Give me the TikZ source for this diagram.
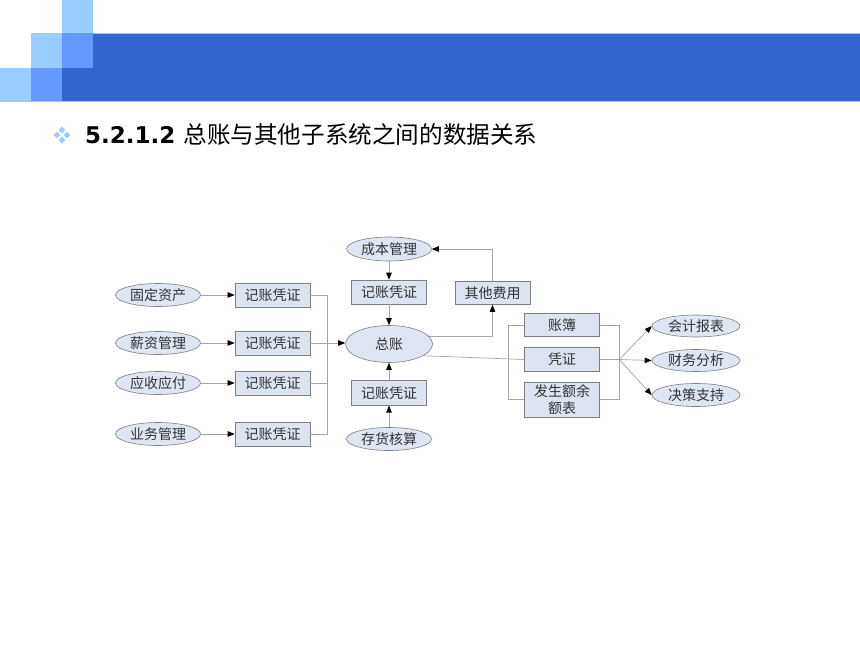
\documentclass[tikz,border=0pt]{standalone}
\usepackage{fontspec}
\newfontfamily\cjk{Noto Sans CJK SC}
\newfontfamily\verd{DejaVu Sans}
\usetikzlibrary{arrows.meta,shapes.geometric,calc}
\definecolor{lb}{HTML}{99CCFF}
\definecolor{mb}{HTML}{6699FF}
\definecolor{db}{HTML}{3366CC}
\definecolor{boxfill}{HTML}{DCE4F1}
\definecolor{ellfill}{HTML}{DFE6F3}
\definecolor{bordc}{HTML}{7F7F7F}
\definecolor{lncol}{HTML}{A6A6A6}
\definecolor{txt}{HTML}{333333}
\begin{document}
\begin{tikzpicture}[x=1pt,y=-1pt,
  lbl/.style={font=\cjk\fontsize{14}{17}\selectfont, text=txt},
  ell/.style={lbl, ellipse, draw=bordc, line width=0.6pt, fill=ellfill, inner sep=0pt, minimum width=85pt, minimum height=23pt},
  box/.style={lbl, rectangle, draw=bordc, line width=0.6pt, fill=boxfill, inner sep=0pt, minimum width=75pt, minimum height=24pt, align=center},
  ln/.style={draw=lncol, line width=0.7pt},
  arr/.style={ln, -{Triangle[length=7pt,width=5.5pt,color=black]}}]
\useasboundingbox (0,0) rectangle (860,645);
\fill[white] (0,0) rectangle (860,645);
% header
\fill[lb] (61.7,0) rectangle (92.7,33.3);
\fill[lb] (31,33.3) rectangle (61.7,67.7);
\fill[mb] (61.7,33.3) rectangle (92.7,67.7);
\fill[db] (92.7,33.3) rectangle (860,67.7);
\fill[lb] (0,67.7) rectangle (31,101);
\fill[mb] (31,67.7) rectangle (61.7,101);
\fill[db] (61.7,67.7) rectangle (860,101);
\draw[lb, line width=0.6pt] (92.7,33.6) -- (860,33.6);
\draw[lb, line width=1pt] (0,101.5) -- (860,101.5);
% bullet
\foreach \dx/\dy in {0/-5,-5/0,5/0,0/5}
  \fill[lb, shift={(62+\dx,135+\dy)}] (0,-3.3) -- (3.3,0) -- (0,3.3) -- (-3.3,0) -- cycle;
% title
\node[anchor=west, inner sep=0pt, font=\fontsize{23}{26}\selectfont] (title) at (85,135)
  {\verd\bfseries 5.2.1.2 {\cjk\mdseries\fontsize{23.6}{26}\selectfont 总账与其他子系统之间的数据关系}};
% left column
\node[ell] (gd) at (158,295) {固定资产};
\node[ell] (xz) at (158,343) {薪资管理};
\node[ell] (ys) at (158,383) {应收应付};
\node[ell] (yw) at (158,434) {业务管理};
\node[box] (b1) at (272.5,295) {记账凭证};
\node[box] (b2) at (272.5,343) {记账凭证};
\node[box] (b3) at (272.5,383) {记账凭证};
\node[box] (b4) at (272.5,434) {记账凭证};
\draw[arr] (gd) -- (b1);
\draw[arr] (xz) -- (b2);
\draw[arr] (ys) -- (b3);
\draw[arr] (yw) -- (b4);
% center
\node[ell, minimum width=87pt, minimum height=37pt] (zz) at (389,344) {总账};
\coordinate (j) at (327,343);
\draw[ln] (b1.east) -- (b1.east -| j) -- (b4.east -| j) -- (b4.east);
\draw[ln] (b2.east) -- (j);
\draw[ln] (b3.east) -- (b3.east -| j);
\draw[arr] (j) -- (j -| zz.west);
% top and bottom
\node[ell, minimum height=24pt] (cb) at (389,249) {成本管理};
\node[box] (bt) at (389,292) {记账凭证};
\draw[arr] (cb) -- (bt);
\draw[arr] (bt) -- (zz);
\node[box, minimum height=24.5pt] (bb) at (389,393) {记账凭证};
\node[ell] (ch) at (389,439) {存货核算};
\draw[arr] (ch) -- (bb);
\draw[arr] (bb) -- (zz);
% other costs
\node[box, minimum height=23pt] (qt) at (492.5,293) {其他费用};
\draw[arr] (zz.11) -| (qt.south);
\draw[arr] (qt.north) |- (cb.east);
% right group
\node[box, minimum width=74.5pt, minimum height=23.5pt] (zb) at (562,325) {账簿};
\node[box, minimum width=74.5pt, minimum height=23.5pt] (pz) at (562,359.5) {凭证};
\node[box, minimum width=74.5pt, minimum height=35pt] (fs) at (562,399.5) {发生额余\\额表};
\draw[ln] (zz.-19) -- (pz.west);
\coordinate (L) at (508,0);
\coordinate (R) at (619.3,0);
\draw[ln] (zb.west) -- (zb.west -| L) -- (fs.west -| L) -- (fs.west);
\draw[ln] (zb.east) -- (zb.east -| R) -- (fs.east -| R) -- (fs.east);
\coordinate (c) at (619.3,359.5);
\draw[ln] (pz.east) -- (c);
\node[ell, minimum width=88pt, minimum height=22pt] (kj) at (696,326) {会计报表};
\node[ell, minimum width=88pt, minimum height=22pt] (cw) at (696,360.5) {财务分析};
\node[ell, minimum width=88pt, minimum height=23pt] (jc) at (696,395) {决策支持};
\draw[arr] (c) -- (kj.west);
\draw[arr] (c) -- (cw.west);
\draw[arr] (c) -- (jc.west);
\end{tikzpicture}
\end{document}
